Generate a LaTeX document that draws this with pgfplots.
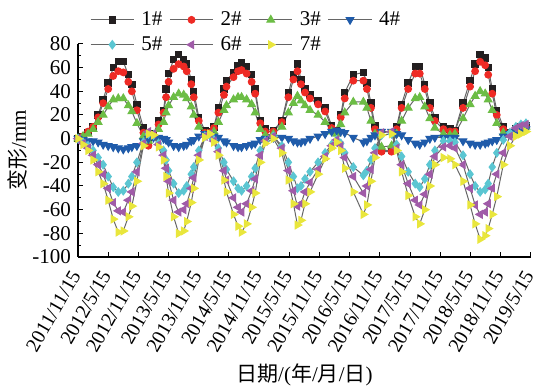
\documentclass[border=0pt]{standalone}
\usepackage{fontspec}
\setmainfont{Liberation Serif}
\newfontfamily\cjk{Noto Sans CJK SC}
\usepackage{pgfplots}
\usepackage{pgfplotstable}
\pgfplotsset{compat=1.18}
\definecolor{c1}{HTML}{231F20}
\definecolor{c2}{HTML}{EE2A24}
\definecolor{c3}{HTML}{6CBD45}
\definecolor{c4}{HTML}{1F5BAA}
\definecolor{c5}{HTML}{5BC6D2}
\definecolor{c6}{HTML}{A05BA8}
\definecolor{c7}{HTML}{E9E63C}
\definecolor{ln}{HTML}{666666}
\pgfplotstableread{
x s1 s2 s3 s4 s5 s6 s7
0 0 0 0 0 0 0 0
1 2 2 2 -1 -3 -4 -5
2 5 6 4 -2 -6 -8 -10
3 10 10 8 -2 -10 -14 -18
4 20 18 14 -3 -16 -22 -28
5 33 30 20 -5 -22 -30 -38
6 47 42 27 -6 -32 -42 -52
7 60 53 33 -7 -41 -54 -68
8 65 57 34 -8 -45 -61 -79
9 65 56 34 -9 -44 -62 -78
10 54 48 28 -8 -38 -52 -66
10.7 46 40 23 -7 -32 -45 -57
11.7 29 24 13 -6 -20 -28 -36
13 9 5 2 -2 -3 -4 -6
14 -4 -6 -2 0 4 6 4
15 4 3 3 1 3 4 3
16 15 12 8 1 -4 -5 -7
17 24 22 14 0 -10 -14 -18
17.5 42 35 22 -1 -18 -25 -32
18 55 48 28 -3 -27 -36 -46
19 67 59 35 -6 -38 -52 -66
20 71 63 38 -7 -46 -62 -80
21 67 61 37 -6 -44 -60 -78
21.6 63 57 34 -5 -40 -55 -70
22.5 50 46 27 -2 -30 -42 -54
23 40 35 20 -1 -24 -33 -42
24 18 15 10 2 -10 -14 -18
25.2 7 5 3 4 2 2 1
26.2 6 5 3 3 3 4 4
27 10 9 6 2 -1 -2 -3
27.9 26 22 14 1 -8 -11 -14
29 42 37 24 -2 -20 -27 -35
29.5 49 44 28 -3 -26 -35 -45
30.9 56 52 33 -6 -36 -50 -64
31.8 62 57 35 -7 -42 -58 -74
32.5 64 58 35 -7 -44 -62 -79
33.5 61 55 33 -6 -40 -55 -72
34.5 54 48 29 -5 -32 -44 -58
35.2 42 38 22 -4 -25 -34 -46
36.2 15 13 8 -1 -10 -14 -20
37.2 8 6 3 0 -2 -2 -4
38.8 7 6 4 1 2 2 0
40.5 15 14 10 1 -6 -8 -12
41.8 39 35 22 0 -20 -27 -35
42.8 54 50 30 -2 -32 -44 -55
43.6 63 57 36 -3 -42 -57 -73
44.3 50 46 32 -3 -40 -55 -69
45.1 42 39 28 -2 -34 -45 -55
46.1 37 34 24 0 -28 -37 -45
47.7 32 29 20 2 -20 -26 -30
49.1 26 23 14 4 -12 -15 -17
50.4 11 9 6 6 -5 -6 -8
51.4 7 6 4 7 -1 -1 -3
52.2 20 18 12 6 -4 -6 -10
53 39 34 22 5 -12 -16 -25
54.7 54 49 31 1 -24 -32 -45
56.7 56 49 31 -3 -31 -46 -64
57.4 47 42 26 -2 -27 -40 -56
58.2 30 26 15 1 -18 -26 -36
59 11 8 4 3 -8 -12 -16
60.3 -10 -11 -7 6 3 5 3
62.3 -10 -11 -6 6 4 6 4
63.3 10 8 4 4 -5 -8 -10
64.3 29 26 15 3 -15 -22 -28
65.6 47 42 26 -1 -28 -38 -48
67 61 55 34 -4 -38 -52 -66
67.9 61 55 35 -5 -41 -56 -72
68.9 46 42 27 -3 -34 -47 -60
69.9 30 26 17 0 -22 -30 -40
70.9 18 15 9 1 -10 -15 -22
72.6 10 8 4 1 -2 -7 -16
73.9 8 6 3 1 -2 -6 -17
74.9 7 6 4 1 -3 -8 -22
76.5 30 26 17 -2 -14 -22 -36
77.9 49 44 29 -4 -30 -42 -56
78.9 63 57 36 -5 -40 -56 -72
79.9 71 65 40 -5 -45 -64 -85
80.9 68 62 38 -4 -43 -62 -82
81.5 60 54 33 -3 -38 -55 -76
82.3 42 38 24 -2 -24 -42 -64
83.2 24 20 13 -1 -12 -30 -49
84.5 10 8 5 2 -1 -12 -22
85.8 5 4 3 4 5 2 -6
87 8 7 6 6 10 9 2
88 10 9 8 7 12 11 4
89 11 10 10 8 13 12 6
}\data
\begin{document}
\begin{tikzpicture}
\useasboundingbox (-39pt,-66pt) rectangle (229.5pt,128.5pt);
\begin{axis}[
  at={(0pt,0pt)}, anchor=south west,
  scale only axis, width=226.5pt, height=106.5pt,
  font=\fontsize{10.5}{12}\selectfont,
  xmin=0, xmax=90, ymin=-100, ymax=80,
  axis x line*=bottom, axis y line*=left,
  xtick={0,6,...,90},
  xticklabels={2011/11/15,2012/5/15,2012/11/15,2013/5/15,2013/11/15,2014/5/15,2014/11/15,2015/5/15,2015/11/15,2016/5/15,2016/11/15,2017/5/15,2017/11/15,2018/5/15,2018/11/15,2019/5/15},
  x tick label style={font=\fontsize{10}{12}\selectfont, xshift=-1pt, yshift=-7.5pt, rotate=60, anchor=east, inner sep=0pt},
  ytick={-100,-80,...,80}, minor y tick num=1,
  tick align=inside, major tick length=2.5pt, minor tick length=1.5pt,
  tick style={black, line width=0.5pt},
  axis line style={black, line width=0.6pt},
  /pgf/number format/assume math mode=true,
  ylabel={{\cjk 变形}/mm},
  ylabel style={at={(axis description cs:-0.1325,0.5)}, anchor=center},
  xlabel={{\cjk 日期}/({\cjk 年}/{\cjk 月}/{\cjk 日})},
  xlabel style={at={(axis description cs:0.5,-0.554)}, anchor=center},
  legend columns=4,
  legend cell align=left,
  legend style={draw=none, fill=none, at={(0.026,1.169)}, anchor=north west,
    inner sep=0pt, nodes={inner sep=1.5pt}, row sep=1pt,
    /tikz/every odd column/.append style={column sep=2pt},
    /tikz/every even column/.append style={column sep=2pt}},
  legend image code/.code={\draw[mark repeat=2,mark phase=2] plot coordinates {(0cm,0cm) (0.38cm,0cm) (0.76cm,0cm)};},
  every axis plot/.append style={color=ln, line width=0.5pt},
]
\addplot[ln, mark=square*, mark size=1.6pt, mark options={fill=c1, draw=c1}] table[x=x, y=s1] {\data};
\addlegendentry{1\#}
\addplot[ln, mark=*, mark size=1.7pt, mark options={fill=c2, draw=c2}] table[x=x, y=s2] {\data};
\addlegendentry{2\#}
\addplot[ln, mark=triangle*, mark size=2.2pt, mark options={fill=c3, draw=c3}] table[x=x, y=s3] {\data};
\addlegendentry{3\#}
\addplot[ln, mark=triangle*, mark size=2.2pt, mark options={fill=c4, draw=c4, rotate=180}] table[x=x, y=s4] {\data};
\addlegendentry{4\#}
\addplot[ln, mark=diamond*, mark size=2.1pt, mark options={fill=c5, draw=c5}] table[x=x, y=s5] {\data};
\addlegendentry{5\#}
\addplot[ln, mark=triangle*, mark size=2.2pt, mark options={fill=c6, draw=c6, rotate=90}] table[x=x, y=s6] {\data};
\addlegendentry{6\#}
\addplot[ln, mark=triangle*, mark size=2.2pt, mark options={fill=c7, draw=c7, rotate=-90}] table[x=x, y=s7] {\data};
\addlegendentry{7\#}
\end{axis}
\end{tikzpicture}
\end{document}
